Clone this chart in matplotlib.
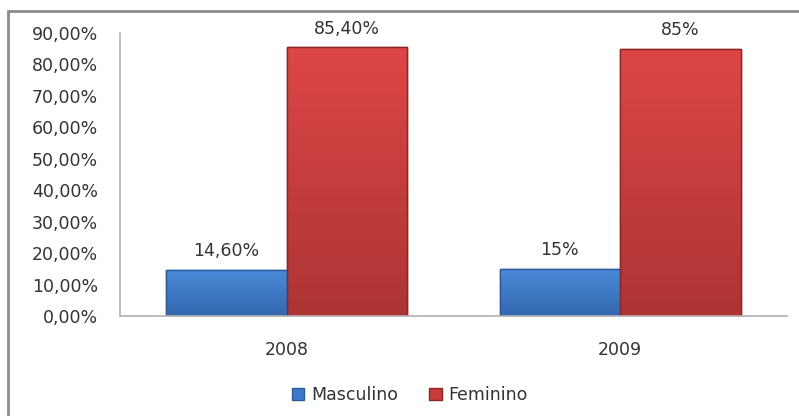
import numpy as np
import matplotlib
matplotlib.use("Agg")
import matplotlib.pyplot as plt
from matplotlib.patches import Rectangle
from matplotlib.colors import LinearSegmentedColormap
from matplotlib.ticker import FuncFormatter

years = ["2008", "2009"]
masculino = [14.6, 15.0]
feminino = [85.4, 85.0]
masc_labels = ["14,60%", "15%"]
fem_labels = ["85,40%", "85%"]

blue = "#3d7acb"
blue_edge = "#2a5a9a"
red = "#c83c3c"
red_edge = "#8a2626"
text_col = "#333333"

plt.rcParams["font.family"] = ["DejaVu Sans"]

fig = plt.figure(figsize=(7.99, 4.16), dpi=100)
ax = fig.add_axes([120 / 799, 100 / 416, 667 / 799, 283 / 416])

x = np.arange(len(years))
w = 0.362
b1 = ax.bar(x - w / 2, masculino, w, color=blue, edgecolor=blue_edge, linewidth=1, label="Masculino")
b2 = ax.bar(x + w / 2, feminino, w, color=red, edgecolor=red_edge, linewidth=1, label="Feminino")

# vertical gradient fill, clipped to each bar
grads = {
    "b": LinearSegmentedColormap.from_list("gb", ["#3468b0", "#4a8ad8"]),
    "r": LinearSegmentedColormap.from_list("gr", ["#ad3434", "#dd4646"]),
}
for bars, cm in ((b1, grads["b"]), (b2, grads["r"])):
    for rect in bars:
        x0, h, bw = rect.get_x(), rect.get_height(), rect.get_width()
        im = ax.imshow(np.linspace(0, 1, 100).reshape(-1, 1), cmap=cm, origin="lower",
                       extent=(x0, x0 + bw, 0, h), aspect="auto", zorder=rect.get_zorder() + 0.1)
        im.set_clip_path(rect)
        ax.add_patch(Rectangle((x0, 0), bw, h, fill=False, edgecolor=rect.get_edgecolor(),
                               linewidth=1, zorder=rect.get_zorder() + 0.2))

for bars, labels in ((b1, masc_labels), (b2, fem_labels)):
    for rect, lab in zip(bars, labels):
        ax.annotate(lab, (rect.get_x() + rect.get_width() / 2, rect.get_height()),
                    xytext=(0, 7), textcoords="offset points", ha="center", va="bottom",
                    fontsize=12.5, color=text_col)

ax.set_xlim(-0.5, 1.5)
ax.set_ylim(0, 90)
ax.set_yticks(np.arange(0, 91, 10))
ax.yaxis.set_major_formatter(FuncFormatter(lambda v, p: f"{v:.2f}%".replace(".", ",")))
ax.set_xticks(x)
ax.set_xticklabels(years)
ax.tick_params(axis="y", length=0, pad=16, labelsize=12.5, labelcolor=text_col)
ax.tick_params(axis="x", length=0, pad=18, labelsize=12.5, labelcolor=text_col)

for s in ("top", "right"):
    ax.spines[s].set_visible(False)
for s in ("left", "bottom"):
    ax.spines[s].set_color("#b0b0b0")
    ax.spines[s].set_linewidth(1.2)

fig.legend(handles=[b1, b2], loc="center", bbox_to_anchor=(410 / 799, 21 / 416), ncol=2,
           frameon=False, fontsize=12.5, handlelength=0.7, handleheight=0.7,
           columnspacing=1.8, handletextpad=0.4, labelcolor=text_col)

# outer chart border (only top and left visible in the crop)
fig.patches.append(Rectangle((8 / 799, -0.1), 1.2, 1.1 - 11 / 416, transform=fig.transFigure,
                             fill=False, edgecolor="#8c8c8c", linewidth=2))

fig.savefig("out.png", dpi=100)
